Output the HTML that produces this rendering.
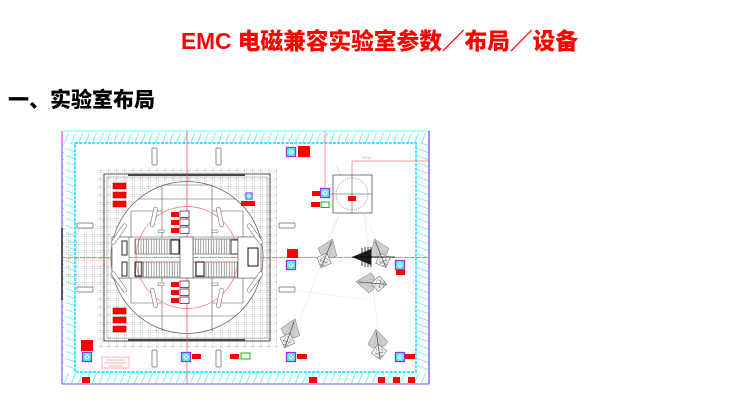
<!DOCTYPE html>
<html><head><meta charset="utf-8">
<style>
html,body{margin:0;padding:0;background:#fff;width:746px;height:409px;overflow:hidden}
svg{position:absolute;left:0;top:0}
</style></head>
<body>
<svg width="746" height="409" viewBox="0 0 746 409" xmlns="http://www.w3.org/2000/svg">
<defs>
<pattern id="hH" width="7" height="12" patternUnits="userSpaceOnUse">
  <path d="M1.5 11 L5.5 1" stroke="#5ef0ff" stroke-width="0.9"/>
</pattern>
<pattern id="hV" width="13" height="7" patternUnits="userSpaceOnUse">
  <path d="M1 1.5 L12 5.5" stroke="#5ef0ff" stroke-width="0.9"/>
</pattern>
<pattern id="grid" width="8" height="8" patternUnits="userSpaceOnUse" x="100" y="170">
  <path d="M0 0.5H8M0.5 0V8M0 2.5H8M2.5 0V8" stroke="#dcdcdc" stroke-width="0.5" fill="none"/>
  <rect x="0" y="0" width="1.2" height="1.2" fill="#b8b8b8"/>
</pattern>
<pattern id="rail" width="2.6" height="20" patternUnits="userSpaceOnUse">
  <path d="M0.6 0V20" stroke="#666" stroke-width="0.6"/>
</pattern>
<g id="ico">
  <rect x="-4.5" y="-4.5" width="9" height="9" fill="#5ff" stroke="#9b30e0" stroke-width="1.3"/>
  <rect x="-2" y="-2" width="4" height="4" fill="#fff"/>
  <path d="M-3.5 -3.5L3.5 3.5M3.5 -3.5L-3.5 3.5" stroke="#2aa" stroke-width="0.5"/>
</g>
<g id="ant">
  <path d="M0 -15 L10 -1 L6 3 L-6 3 L-10 -1 Z" fill="#cfcfcf" stroke="#8a8a8a" stroke-width="0.6"/>
  <path d="M0 -15 L4 3 M0 -15 L-4 3" stroke="#aaa" stroke-width="0.4"/>
  <rect x="-5.5" y="2.5" width="11" height="11" fill="#f4f4f4" stroke="#777" stroke-width="0.6" transform="rotate(45 0 8)"/>
  <rect x="-3" y="5" width="6" height="6" fill="none" stroke="#999" stroke-width="0.5" transform="rotate(20 0 8)"/>
  <path d="M0 -12V15" stroke="#333" stroke-width="0.6"/>
  <path d="M-4 9H4M-3 13L3 13" stroke="#555" stroke-width="0.5"/>
</g>
</defs>

<!-- Title -->
<text x="181" y="49" textLength="397" lengthAdjust="spacingAndGlyphs" font-family="'Liberation Sans','Noto Sans CJK SC',sans-serif" font-weight="900" font-size="23" fill="#ff0000">EMC 电磁兼容实验室参数／布局／设备</text>
<!-- Heading -->
<text x="8" y="107" textLength="147" lengthAdjust="spacingAndGlyphs" font-family="'Liberation Sans','Noto Sans CJK SC',sans-serif" font-weight="900" font-size="21" fill="#000">一、实验室布局</text>

<!-- bands -->
<rect x="62" y="131" width="367" height="12" fill="url(#hH)"/>
<rect x="62" y="372" width="367" height="12" fill="url(#hH)"/>
<rect x="62" y="143" width="13" height="229" fill="url(#hV)"/>
<rect x="416" y="143" width="13" height="229" fill="url(#hV)"/>

<!-- left grid area -->
<rect x="62" y="228" width="40" height="60" fill="url(#grid)"/>

<!-- outer frame -->
<path d="M62 131H429" stroke="#8ff" stroke-width="1.2"/>
<path d="M62 131V384" stroke="#9a60f0" stroke-width="1.3"/>
<path d="M62 131V145" stroke="#f6f" stroke-width="1.3"/>
<path d="M62 228V300" stroke="#334" stroke-width="1.6"/>
<path d="M429 131V384" stroke="#8a6cff" stroke-width="1.6"/>
<path d="M62 384H429" stroke="#9a70f5" stroke-width="1.3"/>
<!-- inner dashed cyan -->
<rect x="75" y="143" width="341" height="229" fill="none" stroke="#16e4ff" stroke-width="1.7" stroke-dasharray="3 1.3"/>

<!-- main square grid -->
<rect x="97" y="167" width="180" height="181" fill="url(#grid)"/>
<rect x="104" y="174" width="166" height="167" fill="none" stroke="#555" stroke-width="1"/>
<rect x="107" y="177" width="160" height="161" fill="none" stroke="#999" stroke-width="0.6"/>
<path d="M128 175H245M128 340H245" stroke="#444" stroke-width="2"/>
<path d="M104 174V341M270 174V341" stroke="#666" stroke-width="1.4" stroke-dasharray="1.5 6"/>

<!-- turntable circle -->
<circle cx="187" cy="257.5" r="76" fill="#fff" stroke="#666" stroke-width="0.8"/>
<g stroke="#555" stroke-width="0.6" fill="none">
  <path d="M138 199H236M138 316H236M162 185H212"/>
  <path d="M162 185V238M212 185V238M162 278V331M212 278V331"/>
  <path d="M131 211V238M243 211V238M131 278V303M243 278V303M131 211H162M212 211H243M131 303H162M212 303H243"/>
  <path d="M112 237H262M112 278H262"/>
</g>
<!-- red small circle & axes -->
<circle cx="187" cy="257.5" r="51" fill="none" stroke="#f66" stroke-width="0.7"/>
<path d="M187 131V384" stroke="#f55" stroke-width="0.8"/>
<path d="M62 257.5H429" stroke="#f55" stroke-width="0.8" stroke-dasharray="5 1"/>

<!-- rails -->
<rect x="135" y="239" width="45" height="15" fill="url(#rail)" stroke="#555" stroke-width="0.6"/>
<rect x="193" y="239" width="45" height="15" fill="url(#rail)" stroke="#555" stroke-width="0.6"/>
<rect x="135" y="262" width="45" height="15" fill="url(#rail)" stroke="#555" stroke-width="0.6"/>
<rect x="193" y="262" width="45" height="15" fill="url(#rail)" stroke="#555" stroke-width="0.6"/>
<rect x="180" y="237" width="13" height="41" fill="#fff" stroke="#555" stroke-width="0.7"/>
<rect x="171" y="240" width="8" height="14" fill="#fff" stroke="#111" stroke-width="1"/>
<rect x="196" y="262" width="8" height="14" fill="#fff" stroke="#111" stroke-width="1"/>
<rect x="231" y="240" width="7" height="14" fill="#fff" stroke="#222" stroke-width="0.9"/>
<rect x="135" y="262" width="7" height="14" fill="none" stroke="#222" stroke-width="0.9"/>
<rect x="112" y="237" width="17" height="41" fill="#fff" stroke="#555" stroke-width="0.6"/>
<rect x="122" y="241" width="5" height="14" fill="#fff" stroke="#111" stroke-width="0.9"/>
<rect x="122" y="262" width="5" height="14" fill="#fff" stroke="#111" stroke-width="0.9"/>
<rect x="238" y="237" width="23" height="41" fill="#fff" stroke="#555" stroke-width="0.6"/>
<rect x="248" y="248" width="10" height="18" fill="#fff" stroke="#111" stroke-width="1"/>

<!-- slots -->
<g fill="#fff" stroke="#777" stroke-width="0.6">
  <rect x="152" y="207" width="4" height="20" rx="2" transform="rotate(12 154 217)"/>
  <rect x="218" y="207" width="4" height="20" rx="2" transform="rotate(-12 220 217)"/>
  <rect x="152" y="288" width="4" height="20" rx="2" transform="rotate(-12 154 298)"/>
  <rect x="218" y="288" width="4" height="20" rx="2" transform="rotate(12 220 298)"/>
  <rect x="117" y="222" width="4" height="24" rx="2" transform="rotate(35 119 234)"/>
  <rect x="253" y="222" width="4" height="24" rx="2" transform="rotate(-35 255 234)"/>
  <rect x="117" y="270" width="4" height="24" rx="2" transform="rotate(-35 119 282)"/>
  <rect x="253" y="270" width="4" height="24" rx="2" transform="rotate(35 255 282)"/>
  <rect x="158" y="230" width="6" height="2.5"/>
  <rect x="212" y="230" width="6" height="2.5"/>
  <rect x="158" y="283" width="6" height="2.5"/>
  <rect x="212" y="283" width="6" height="2.5"/>
</g>

<!-- red labels in square -->
<g fill="#ff0000">
  <rect x="113" y="183" width="13" height="6" stroke="#900" stroke-width="0.5"/>
  <rect x="113" y="192" width="13" height="6" stroke="#900" stroke-width="0.5"/>
  <rect x="113" y="201" width="13" height="6" stroke="#900" stroke-width="0.5"/>
  <rect x="113" y="308" width="13" height="6" stroke="#900" stroke-width="0.5"/>
  <rect x="113" y="317" width="13" height="6" stroke="#900" stroke-width="0.5"/>
  <rect x="113" y="326" width="13" height="6" stroke="#900" stroke-width="0.5"/>
  <rect x="171" y="212" width="8" height="5"/>
  <rect x="171" y="220" width="8" height="5"/>
  <rect x="171" y="228" width="8" height="5"/>
  <rect x="171" y="282" width="8" height="5"/>
  <rect x="171" y="290" width="8" height="5"/>
  <rect x="171" y="298" width="8" height="5"/>
</g>
<g fill="#fff" stroke="#222" stroke-width="0.7">
  <rect x="180" y="211" width="9" height="6.5"/>
  <rect x="180" y="219" width="9" height="6.5"/>
  <rect x="180" y="227" width="9" height="6.5"/>
  <rect x="180" y="281" width="9" height="6.5"/>
  <rect x="180" y="289" width="9" height="6.5"/>
  <rect x="180" y="297" width="9" height="6.5"/>
</g>

<!-- bolt boxes -->
<g fill="#fff" stroke="#666" stroke-width="0.7">
  <rect x="152" y="148" width="5" height="17" rx="1"/>
  <rect x="216" y="148" width="5" height="17" rx="1"/>
  <rect x="152" y="350" width="5" height="17" rx="1"/>
  <rect x="216" y="350" width="5" height="17" rx="1"/>
  <rect x="77" y="223" width="16" height="5" rx="1"/>
  <rect x="77" y="287" width="16" height="5" rx="1"/>
  <rect x="279" y="223" width="16" height="5" rx="1"/>
  <rect x="279" y="287" width="16" height="5" rx="1"/>
</g>

<!-- pink label box -->
<rect x="102" y="357" width="27" height="11" fill="#fff" stroke="#f88" stroke-width="0.6"/>
<path d="M106 360H125M104 363H127M108 366H123" stroke="#f99" stroke-width="0.7"/>

<!-- right measurement square -->
<path d="M325 131V189" stroke="#f77" stroke-width="0.8"/>
<path d="M352 161H429M352 161V175" stroke="#f77" stroke-width="0.8"/>
<path d="M336 166L350 190" stroke="#faa" stroke-width="0.5"/>
<text x="362" y="159" font-family="'Liberation Sans',sans-serif" font-size="4" fill="#f99">6000</text>
<rect x="333" y="175" width="39" height="38" fill="#fff" stroke="#555" stroke-width="0.8"/>
<circle cx="352" cy="194" r="16" fill="none" stroke="#777" stroke-width="0.6" stroke-dasharray="1 1"/>
<path d="M325 194H372M352 175V213" stroke="#444" stroke-width="0.5"/>
<rect x="348" y="196" width="8" height="5" fill="#f00"/>

<!-- faint antenna lines -->
<g stroke="#e6e6e6" stroke-width="0.6">
  <path d="M340 213L318 260M364 213L385 260M340 213L300 320M364 213L378 330M290 290L370 300"/>
</g>

<!-- antennas -->
<use href="#ant" transform="translate(327 253) rotate(22)"/>
<use href="#ant" transform="translate(380 253) rotate(-22)"/>
<use href="#ant" transform="translate(371 283) rotate(-85)"/>
<use href="#ant" transform="translate(290 333) rotate(20)"/>
<use href="#ant" transform="translate(378 344) rotate(-8)"/>
<path d="M352 257L371 249V265Z" fill="#222"/>
<path d="M362 248V266M365 247V267M368 247V267M371 247V267" stroke="#111" stroke-width="0.8"/>
<path d="M352 257H395" stroke="#000" stroke-width="0.8"/>

<!-- icons -->
<use href="#ico" x="291" y="152"/>
<use href="#ico" transform="translate(249 196) scale(0.7)"/>
<use href="#ico" x="291" y="265"/>
<use href="#ico" x="325" y="193"/>
<use href="#ico" x="87" y="357"/>
<use href="#ico" x="186" y="357"/>
<use href="#ico" x="291" y="357"/>
<use href="#ico" x="400" y="357"/>
<use href="#ico" x="400" y="265"/>

<!-- green boxes -->
<rect x="321" y="202" width="8" height="5.5" fill="#fff" stroke="#0b0" stroke-width="1"/>
<rect x="241" y="353" width="9" height="6" fill="#fff" stroke="#0b0" stroke-width="1"/>

<!-- red labels -->
<g fill="#ff0000">
  <rect x="298" y="146" width="12" height="11"/>
  <rect x="241" y="201" width="14" height="5"/>
  <rect x="287" y="249" width="11" height="9"/>
  <rect x="312" y="191" width="8" height="5"/>
  <rect x="311" y="202" width="9" height="5"/>
  <rect x="396" y="270" width="9" height="5"/>
  <rect x="81" y="340" width="12" height="11"/>
  <rect x="192" y="354" width="9" height="5"/>
  <rect x="230" y="354" width="9" height="5"/>
  <rect x="297" y="354" width="10" height="5"/>
  <rect x="405" y="354" width="10" height="5"/>
  <rect x="82" y="377" width="8" height="6"/>
  <rect x="309" y="377" width="8" height="6"/>
  <rect x="378" y="377" width="7" height="6"/>
  <rect x="393" y="377" width="7" height="6"/>
  <rect x="408" y="377" width="7" height="6"/>
</g>
</svg>
</body></html>
